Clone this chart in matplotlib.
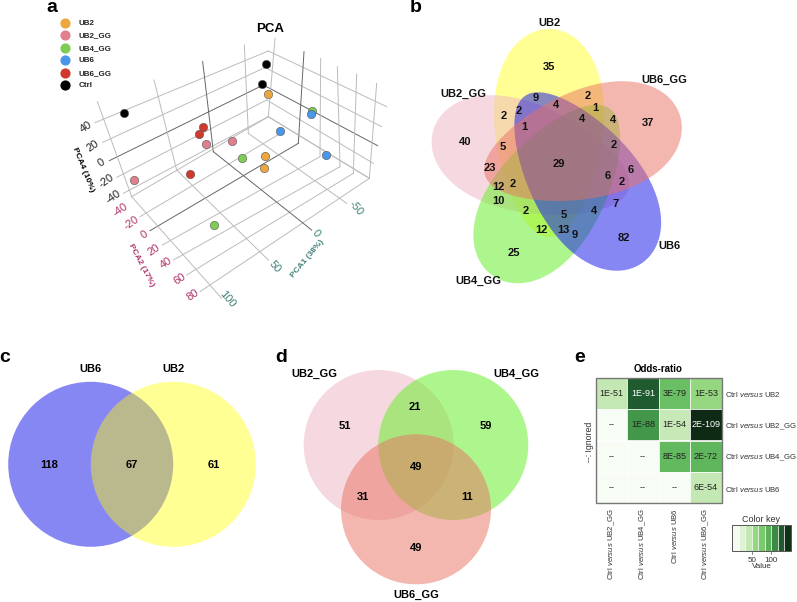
import numpy as np
import matplotlib
matplotlib.use("Agg")
import matplotlib.pyplot as plt
from matplotlib.patches import Circle, Polygon, Rectangle
from matplotlib.colors import LinearSegmentedColormap

plt.rcParams['font.family'] = ['Liberation Sans', 'DejaVu Sans']
plt.rcParams['mathtext.fontset'] = 'custom'
plt.rcParams['mathtext.it'] = 'Liberation Sans:italic'
plt.rcParams['mathtext.rm'] = 'Liberation Sans'

# panel a, positions of the samples on the projected 3d plot
groups = ["UB2", "UB2_GG", "UB4_GG", "UB6", "UB6_GG", "Ctrl"]
group_colors = ["#eda63e", "#e0808f", "#7ccc55", "#4a96e8", "#d0392b", "#000000"]
pca_x = [[268.3, 265.3, 263.7], [134.3, 206.3, 232], [311.7, 241.7, 214.3],
         [311, 279.7, 325.7], [203, 199, 190.3], [266.3, 262, 124]]
pca_y = [[94.3, 155.7, 167.7], [180, 143.7, 141], [110.7, 158.3, 224.7],
         [114.3, 131, 155], [126.7, 134, 174.3], [64.3, 84, 112.7]]

pca4_ticks = ["40", "20", "0", "-20", "-40"]
pca2_ticks = ["-40", "-20", "0", "20", "40", "60", "80"]
pca1_ticks = ["100", "50", "0", "-50"]

# panel b
venn5_names = ["UB2", "UB2_GG", "UB4_GG", "UB6", "UB6_GG"]
venn5_counts = ["35", "40", "25", "82", "37", "9", "2", "2", "1", "4", "2", "1", "4", "4", "2",
                "5", "23", "12", "2", "29", "6", "6", "2", "10", "2", "7", "5", "4",
                "12", "13", "9"]
venn5_x = [149, 65, 114, 224, 248, 136, 119, 104, 124, 156, 188, 195, 182, 213, 214,
           103, 90, 98, 113, 159, 208, 231, 222, 98, 126, 216, 164, 194,
           141, 163, 175]
venn5_y = [67, 142, 253, 238, 123, 98, 111, 116, 127, 105, 96, 108, 119, 120, 145,
           147, 168, 187, 184, 164, 176, 170, 182, 201, 211, 204, 215, 211,
           230, 230, 235]

# panel c
venn_c_counts = ["118", "67", "61"]
# panel d
venn_d_counts = ["51", "21", "59", "49", "31", "11", "49"]

# panel e
row_labels = ["UB2", "UB2_GG", "UB4_GG", "UB6"]
col_labels = ["UB2_GG", "UB4_GG", "UB6", "UB6_GG"]
odds = np.array([[35, 125, 75, 50],
                 [0, 100, 33, 160],
                 [0, 0, 80, 82],
                 [0, 0, 0, 35]])
odds_text = [["1E-51", "1E-91", "3E-79", "1E-53"],
             ["--", "1E-88", "1E-54", "2E-109"],
             ["--", "--", "8E-85", "2E-72"],
             ["--", "--", "--", "6E-54"]]
key_values = [2, 18, 35, 50, 65, 85, 105, 125, 155]

W, H = 797, 602
fig = plt.figure(figsize=(W / 100, H / 100), dpi=100)
ax = fig.add_axes([0, 0, 1, 1])
ax.set_xlim(0, W)
ax.set_ylim(H, 0)
ax.axis("off")

for lab, x, y in [("a", 52, 8), ("b", 416, 8), ("c", 5, 357), ("d", 281, 357), ("e", 580, 357)]:
    ax.text(x, y, lab, fontsize=14, fontweight="bold", ha="center", va="center")

# ---- a
def seg(p, q, dark=False):
    ax.plot([p[0] / 3, q[0] / 3], [p[1] / 3, q[1] / 3], color="#666666" if dark else "#bbbbbb",
            lw=0.7, zorder=1)

left_wall = [((285, 368), (805, 153)), ((308, 427), (790, 205)), ((328, 482), (790, 255)),
             ((350, 532), (800, 300)), ((370, 580), (805, 350))]
right_wall = [((805, 153), (1160, 320)), ((800, 205), (1145, 380)), ((790, 255), (1133, 437)),
              ((800, 300), (1120, 490)), ((805, 350), (1108, 535))]
wall_vert = [((395, 590), (292, 305)), ((530, 510), (462, 240)), ((640, 455), (608, 185)),
             ((745, 400), (733, 135)), ((805, 350), (825, 115)), ((895, 430), (912, 155)),
             ((960, 470), (962, 175)), ((1020, 500), (1012, 200)), ((1060, 520), (1070, 222)),
             ((1108, 535), (1130, 250))]
floor_a = [((395, 590), (805, 350)), ((420, 650), (850, 395)), ((450, 692), (895, 430)),
           ((487, 735), (960, 470)), ((520, 780), (1020, 500)), ((560, 825), (1060, 520)),
           ((600, 875), (1108, 535))]
floor_b = [((395, 590), (665, 895)), ((530, 510), (805, 780)), ((640, 455), (935, 690)),
           ((745, 400), (1040, 610)), ((805, 350), (1108, 535))]
for i, (p, q) in enumerate(left_wall):
    seg(p, q, i == 2)
for i, (p, q) in enumerate(right_wall):
    seg(p, q, i == 2)
for i, (p, q) in enumerate(wall_vert):
    seg(p, q, i in (2, 5))
for i, (p, q) in enumerate(floor_a):
    seg(p, q, i == 2)
for i, (p, q) in enumerate(floor_b):
    seg(p, q, i == 2)

for g, c, xs, ys in zip(groups, group_colors, pca_x, pca_y):
    ax.scatter(xs, ys, s=36, color=c, edgecolors="#555555", linewidths=0.4, zorder=3)

for i, (g, c) in enumerate(zip(groups, group_colors)):
    yy = 22.7 + i * 12.5
    ax.scatter([65], [yy], s=40, color=c, zorder=3)
    ax.text(78.5, yy + 0.5, g, fontsize=5.8, fontweight="bold", va="center", color="#222222")

ax.text(270, 29, "PCA", fontsize=9.5, fontweight="bold", ha="center", va="center")
for t, x, y in zip(pca4_ticks, [86, 93, 101, 106, 113], [127, 146, 163, 181, 197]):
    ax.text(x, y, t, fontsize=8, rotation=35, ha="center", va="center", color="#222222")
for t, x, y in zip(pca2_ticks, [120, 131, 144, 154, 166, 180, 193], [210, 223, 235, 250, 263, 279, 295]):
    ax.text(x, y, t, fontsize=8, rotation=35, ha="center", va="center", color="#b0306a")
for t, x, y in zip(pca1_ticks, [227, 275, 316, 356], [299, 267, 233, 208]):
    ax.text(x, y, t, fontsize=8, rotation=-50, ha="center", va="center", color="#3f7f78")
ax.text(83, 170, "PCA4 (10%)", fontsize=6, fontweight="bold", rotation=-68, ha="center", va="center")
ax.text(141, 265, "PCA2 (17%)", fontsize=6, fontweight="bold", rotation=-62, ha="center", va="center", color="#b0306a")
ax.text(308, 259, "PCA1 (38%)", fontsize=6, fontweight="bold", rotation=50, ha="center", va="center", color="#3f7f78")

# ---- b
def egg(center, a, b, ang, k=0.2):
    # petal outline, fatter towards the outer end (ang points outwards, degrees, y down)
    t = np.linspace(0, 2 * np.pi, 200)
    u = a * np.cos(t)
    v = b * np.sin(t) * (1 + k * np.cos(t))
    r = np.radians(ang)
    return np.c_[center[0] + u * np.cos(r) - v * np.sin(r), center[1] + u * np.sin(r) + v * np.cos(r)]

ell = [((549, 133), 104, 54, -90, "#ffff00", 0.42),
       ((531, 159.5), 102, 54, 197, "#eeb5c2", 0.5),
       ((551, 192), 102, 54, 125, "#5def1f", 0.5),
       ((583.5, 179.5), 102, 54, 55, "#1111eb", 0.5),
       ((582.5, 145.5), 102, 54, -17, "#e97161", 0.5)]
for center, a, b, ang, c, al in ell:
    ax.add_patch(Polygon(egg(center, a, b, ang), closed=True, facecolor=c, edgecolor="none", alpha=al, zorder=1))
for n, x, y in zip(venn5_names, [549.7, 463, 478, 669, 664], [23, 94, 281, 246, 80]):
    ax.text(x, y, n, fontsize=8, fontweight="bold", ha="center", va="center", color="#111111")
for t, x, y in zip(venn5_counts, venn5_x, venn5_y):
    ax.text(x + 400, y, t, fontsize=8, fontweight="bold", ha="center", va="center", color="#111111")

# ---- c
ax.add_patch(Circle((90.7, 464.3), 82.5, facecolor="#1111eb", alpha=0.5, edgecolor="none"))
ax.add_patch(Circle((173.3, 464.3), 82.5, facecolor="#ffff00", alpha=0.42, edgecolor="none"))
ax.text(90.7, 369.5, "UB6", fontsize=8, fontweight="bold", ha="center", va="center")
ax.text(173.5, 369.5, "UB2", fontsize=8, fontweight="bold", ha="center", va="center")
for t, x in zip(venn_c_counts, [49, 132, 214]):
    ax.text(x, 464.5, t, fontsize=8, fontweight="bold", ha="center", va="center")

# ---- d
ax.add_patch(Circle((378.7, 445), 75, facecolor="#eeb5c2", alpha=0.5, edgecolor="none"))
ax.add_patch(Circle((453.3, 445), 75, facecolor="#5def1f", alpha=0.5, edgecolor="none"))
ax.add_patch(Circle((416, 509.3), 75, facecolor="#e97161", alpha=0.5, edgecolor="none"))
for n, x, y in zip(["UB2_GG", "UB4_GG", "UB6_GG"], [314, 516.7, 416], [373.7, 373.7, 594.7]):
    ax.text(x, y, n, fontsize=8, fontweight="bold", ha="center", va="center")
for t, x, y in zip(venn_d_counts, [344.7, 415.3, 486, 415.7, 363.3, 467.3, 415.7],
                   [426.3, 406.7, 426.3, 466.7, 496.7, 496.7, 548.3]):
    ax.text(x, y, t, fontsize=8, fontweight="bold", ha="center", va="center")

# ---- e
cmap = LinearSegmentedColormap.from_list("gr", [(0, "#f7fcf5"), (35 / 160, "#c3e8b3"), (50 / 160, "#95d680"),
                                                (80 / 160, "#62ba5e"), (100 / 160, "#43984a"),
                                                (125 / 160, "#1f5c2e"), (1, "#0e2a14")])
x0, y0, cw, ch = 595.7, 377.7, 31.5, 31.4
for r in range(4):
    for k in range(4):
        ax.add_patch(Rectangle((x0 + k * cw, y0 + r * ch), cw, ch, facecolor=cmap(odds[r, k] / 160),
                               edgecolor="white", lw=0.5))
        ax.text(x0 + (k + 0.5) * cw, y0 + (r + 0.5) * ch, odds_text[r][k], fontsize=6.5, ha="center",
                va="center", color="white" if odds[r, k] > 110 else "#222222")
ax.add_patch(Rectangle((x0, y0), 4 * cw, 4 * ch, fill=False, edgecolor="#777777", lw=1))
ax.text(658, 369, "Odds-ratio", fontsize=7, fontweight="bold", ha="center", va="center")
ax.text(590, 442, "--: Ignored", fontsize=6.3, rotation=90, ha="center", va="center", color="#333333")
for r, lab in enumerate(row_labels):
    ax.text(724.7, y0 + (r + 0.55) * ch, "Ctrl $\\mathit{versus}$ " + lab, fontsize=5.6, va="center", color="#333333")
for k, lab in enumerate(col_labels):
    ax.text(x0 + (k + 0.5) * cw, 508, "Ctrl $\\mathit{versus}$ " + lab, fontsize=5.6, rotation=90, ha="center", va="top", color="#333333")
kx, kw = 732.3, 6.49
for i, v in enumerate(key_values):
    ax.add_patch(Rectangle((kx + i * kw, 525.3), kw, 25.4, facecolor=cmap(v / 160), edgecolor="white", lw=0.4))
ax.add_patch(Rectangle((kx, 525.3), 58.4, 25.4, fill=False, edgecolor="#555555", lw=0.7))
ax.text(761.3, 519.3, "Color key", fontsize=6.5, ha="center", va="center", color="#333333")
ax.text(752, 560, "50", fontsize=5.8, ha="center", va="center", color="#333333")
ax.text(771, 560, "100", fontsize=5.8, ha="center", va="center", color="#333333")
ax.text(762, 567, "Value", fontsize=5.8, ha="center", va="center", color="#333333")
ax.plot([751.7, 751.7], [550.7, 554], color="#555555", lw=0.5)
ax.plot([770.7, 770.7], [550.7, 554], color="#555555", lw=0.5)

fig.savefig("out.png", dpi=100)
